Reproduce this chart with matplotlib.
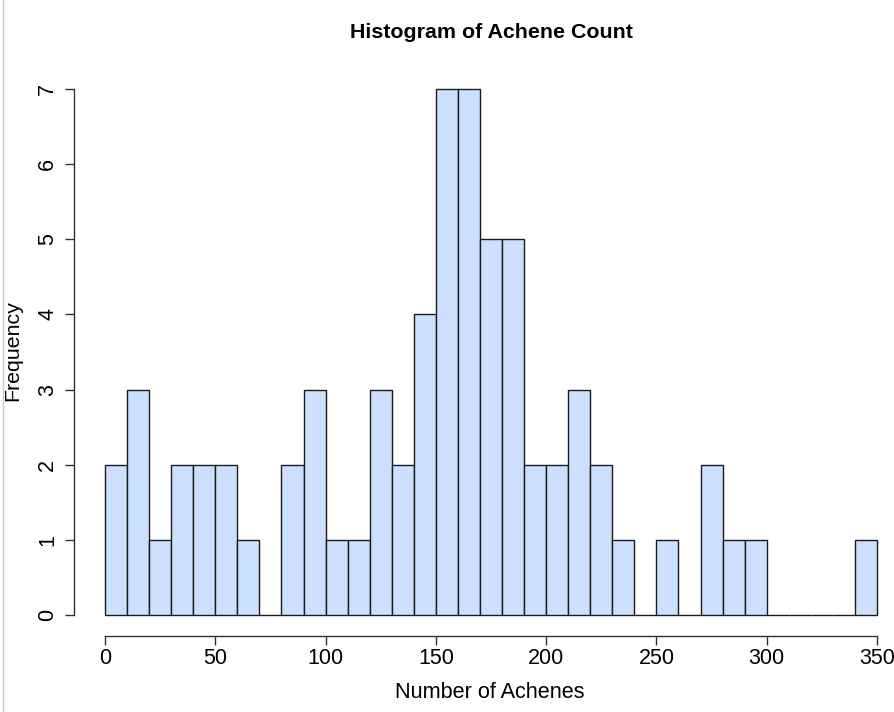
import numpy as np
import matplotlib.pyplot as plt

# histogram data (bin width 10)
bin_edges = np.arange(0, 351, 10)
counts = [2, 3, 1, 2, 2, 2, 1, 0, 2, 3, 1, 1, 3, 2, 4, 7, 7, 5, 5, 2,
          2, 3, 2, 1, 0, 1, 0, 2, 1, 1, 0, 0, 0, 0, 1]
x_ticks = [0, 50, 100, 150, 200, 250, 300, 350]
y_ticks = [0, 1, 2, 3, 4, 5, 6, 7]

plt.rcParams['font.family'] = ['Liberation Sans', 'DejaVu Sans']

W, H = 894, 712
PX = 72 / 100  # points per pixel at dpi 100
fig = plt.figure(figsize=(W / 100, H / 100), dpi=100)
ax = fig.add_axes([105 / W, 1 - 615 / H, (877 - 105) / W, (615 - 89) / H])

bars = ax.bar(bin_edges[:-1], counts, width=10, align='edge',
              color='#cce0fd', edgecolor='#1a1a1a', linewidth=1.0)
for b in bars:
    b.set_clip_on(False)

ax.set_xlim(0, 350)
ax.set_ylim(0, 7)

for s in ['top', 'right']:
    ax.spines[s].set_visible(False)
ax.spines['left'].set_position(('outward', 31 * PX))
ax.spines['bottom'].set_position(('outward', 21 * PX))
ax.spines['left'].set_bounds(0, 7)
ax.spines['bottom'].set_bounds(0, 350)
for s in ['left', 'bottom']:
    ax.spines[s].set_color('#333333')
    ax.spines[s].set_linewidth(1.0)

ax.set_xticks(x_ticks)
ax.set_yticks(y_ticks)
ax.tick_params(axis='both', length=9 * PX, width=1.0, color='#333333',
               labelsize=15.5)
ax.tick_params(axis='x', pad=3 * PX)
ax.tick_params(axis='y', pad=7 * PX)
plt.setp(ax.get_yticklabels(), rotation=90, va='center')

fig.text(490 / W, 1 - 692 / H, 'Number of Achenes', fontsize=15.6,
         ha='center', va='center')
fig.text(13 / W, 1 - 351 / H, 'Frequency', fontsize=15.4, rotation=90,
         ha='center', va='center')
fig.text(491 / W, 1 - 33 / H, 'Histogram of Achene Count', fontsize=15.4,
         fontweight='bold', ha='center', va='center')

# thin grey border line at the left edge of the screenshot
fig.add_artist(plt.Line2D([3 / W, 3 / W], [0, 1], color='#cccccc', lw=1))

fig.savefig('out.png', dpi=100)
